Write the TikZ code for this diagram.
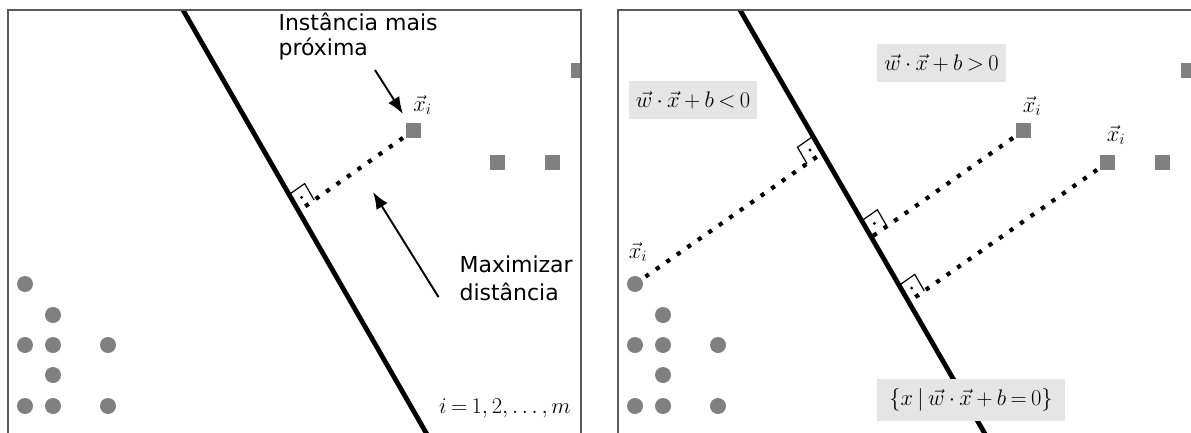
\RequirePackage{fix-cm}
\documentclass[tikz,border=0pt]{standalone}
\usepackage{fontspec}
\usetikzlibrary{calc,arrows.meta}
\newfontfamily\labfont{DejaVu Sans}
\definecolor{framec}{RGB}{90,90,90}
\definecolor{ptc}{RGB}{128,128,128}
\definecolor{boxc}{RGB}{229,229,229}
\AtBeginDocument{\thickmuskip=3.5mu\medmuskip=3.5mu}
\newcommand\ramark[3]{%
  \coordinate (#1-a) at ($(#1)!19pt!(#3)$);
  \coordinate (#1-c) at ($(#1)!19pt!(#2)$);
  \coordinate (#1-b) at ($(#1-a)+(#1-c)-(#1)$);
  \draw[rmark] (#1-a) -- (#1-b) -- (#1-c);
  \fill ($(#1)!0.5!(#1-b)$) circle (1.6pt);
}
\begin{document}
\begin{tikzpicture}[x=1pt,y=-1pt,
  frame/.style={draw=framec, line width=1.4pt},
  hyper/.style={line width=4.8pt, shorten <=-14pt, shorten >=-14pt},
  dotl/.style={line width=4.2pt, dash pattern=on 4.2pt off 8.6pt},
  pt/.style={circle, fill=ptc, inner sep=0pt, minimum size=16pt},
  sq/.style={rectangle, fill=ptc, inner sep=0pt, minimum size=15pt},
  rmark/.style={line width=1.2pt},
  lab/.style={font=\labfont\fontsize{22}{25}\selectfont},
  mathl/.style={font=\fontsize{22.5}{27}\selectfont, inner sep=0pt},
  ineq/.style={fill=boxc, inner sep=0pt, minimum height=38pt, font=\fontsize{22.5}{27}\selectfont},
  callout/.style={line width=1.9pt, -{Latex[length=17pt,width=13pt]}}]
\useasboundingbox (0,0) rectangle (1191,432);

% ---------------- left panel ----------------
\begin{scope}
  \clip (8,10) rectangle (581,440);
  \coordinate (H1a) at (183,10);
  \coordinate (H1b) at (425.65,432);
  \coordinate (P1) at (413.5,130.5);
  \coordinate (Q1) at ($(P1)+(-100,70)$);
  \coordinate (F1) at (intersection of H1a--H1b and P1--Q1);
  \draw[dotl] (P1) -- (F1);
  \draw[hyper] (H1a) -- (H1b);
  \ramark{F1}{P1}{H1a}
  \foreach \x/\y [count=\i] in {25/284,53/315,25/345,53/345,108/345,53/375,25/406,53/406,108/406}
    \node[pt] (cl\i) at (\x,\y) {};
  \node[sq] (sl1) at (P1) {};
  \foreach \x/\y [count=\i from 2] in {497.5/162.5,552.5/162.5,578.5/70}
    \node[sq] (sl\i) at (\x,\y) {};
\end{scope}
\draw[frame] (8,445) -- (8,10) -- (581,10) -- (581,445);

\node[lab, anchor=base west, align=left] (near) at (275,55) {Instância mais\\próxima};
\node[lab, anchor=base west, align=left, font=\labfont\fontsize{22}{28}\selectfont] (maxd) at (456,300) {Maximizar\\distância};
\node[mathl] (xl1) at (422.5,105) {$\vec{x}_i$};
\node[mathl, anchor=base east] (idx) at (571,413) {$i=1,2,\dots,m$};
\coordinate (a1s) at (375,70);
\coordinate (a1e) at (403,114);
\coordinate (a2s) at (438.5,297);
\coordinate (a2e) at (373,192);
\draw[callout] (a1s) -- (a1e);
\draw[callout] (a2s) -- (a2e);

% ---------------- right panel ----------------
\begin{scope}
  \clip (618,10) rectangle (1191,440);
  \coordinate (H2a) at (740,10);
  \coordinate (H2b) at (983.9,432);
  \coordinate (Cr) at (635,284);
  \coordinate (P2) at (1023.5,130.5);
  \coordinate (P3) at (1107.5,162.5);
  \coordinate (Q0) at ($(Cr)+(100,-70)$);
  \coordinate (Q2) at ($(P2)+(-100,70)$);
  \coordinate (Q3) at ($(P3)+(-100,70)$);
  \coordinate (F0) at (intersection of H2a--H2b and Cr--Q0);
  \coordinate (F2) at (intersection of H2a--H2b and P2--Q2);
  \coordinate (F3) at (intersection of H2a--H2b and P3--Q3);
  \draw[dotl] (Cr) -- (F0);
  \draw[dotl] (P2) -- (F2);
  \draw[dotl] (P3) -- (F3);
  \draw[hyper] (H2a) -- (H2b);
  \ramark{F0}{Cr}{H2a}
  \ramark{F2}{P2}{H2a}
  \ramark{F3}{P3}{H2a}
  \node[pt] (cr1) at (Cr) {};
  \foreach \x/\y [count=\i from 2] in {663/315,635/345,663/345,718/345,663/375,635/406,663/406,718/406}
    \node[pt] (cr\i) at (\x,\y) {};
  \node[sq] (sr1) at (P2) {};
  \node[sq] (sr2) at (P3) {};
  \foreach \x/\y [count=\i from 3] in {1162.5/162.5,1188.5/70}
    \node[sq] (sr\i) at (\x,\y) {};
  \node[ineq, minimum width=188pt, minimum height=42pt] (hyp) at (971,400) {$\{x\mid\vec{w}\cdot\vec{x}+b=0\}$};
\end{scope}
\draw[frame] (618,445) -- (618,10) -- (1192,10);

\node[ineq, minimum width=129pt] (pos) at (941.5,63) {$\vec{w}\cdot\vec{x}+b>0$};
\node[ineq, minimum width=128pt] (neg) at (693,100) {$\vec{w}\cdot\vec{x}+b<0$};
\node[mathl] (xr0) at (638,252) {$\vec{x}_i$};
\node[mathl] (xr2) at (1032,106) {$\vec{x}_i$};
\node[mathl] (xr3) at (1116,135) {$\vec{x}_i$};
\end{tikzpicture}
\end{document}
